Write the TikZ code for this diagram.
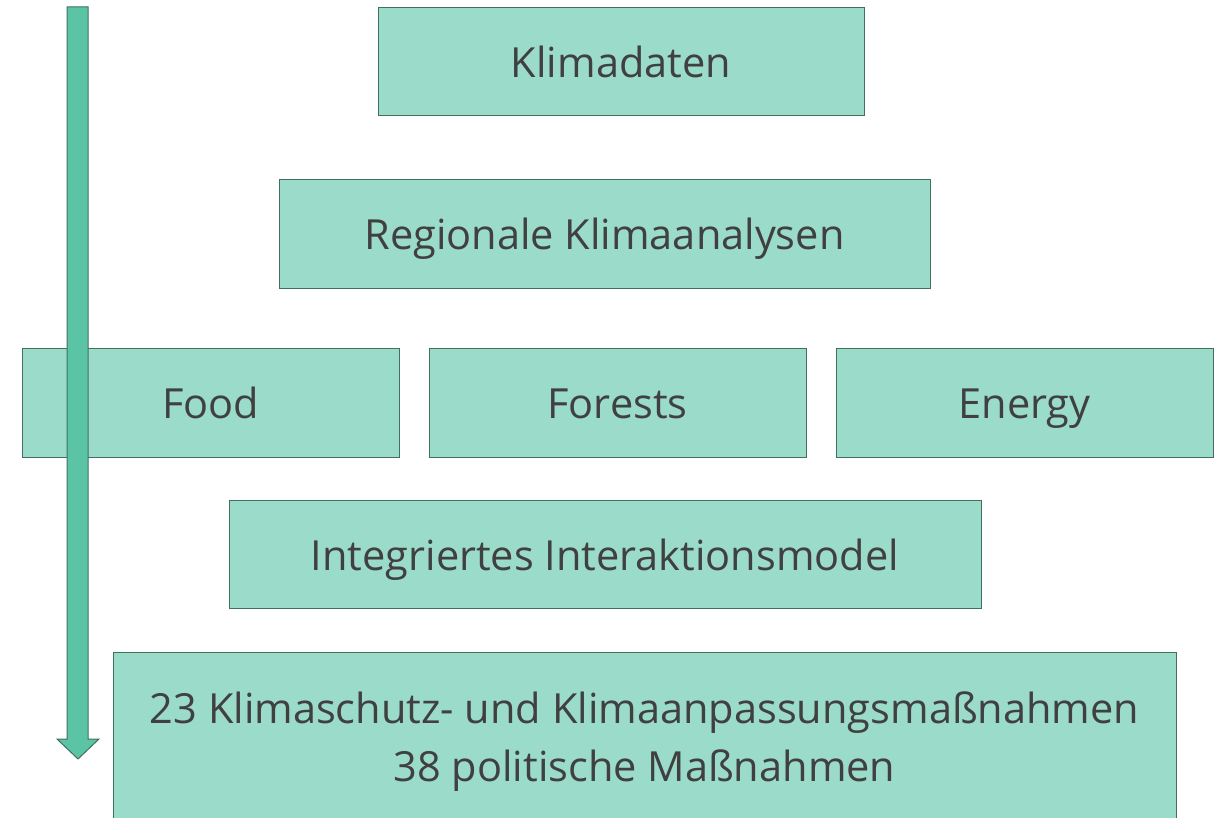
\documentclass[tikz,border=0pt]{standalone}
\usepackage{fontspec}
\setmainfont{Open Sans}
\usepackage{tikz}
\usetikzlibrary{positioning}
\definecolor{boxfill}{HTML}{9BDBC9}
\definecolor{boxline}{HTML}{41705F}
\definecolor{pfeil}{HTML}{5AC4A4}
\definecolor{schrift}{HTML}{404040}

\begin{document}
\begin{tikzpicture}[x=1pt,y=-1pt,font=\fontsize{41.5}{58}\selectfont,
    feld/.style={draw=boxline,fill=boxfill,text=schrift,inner sep=0pt,line width=1pt,align=center},
    zeile/.style={feld,text height=36pt,text depth=4pt}]
        \useasboundingbox (0,0) rectangle (1214,818);
        % --- Datenkette ---
        \node[zeile,minimum width=486pt,minimum height=108pt] (klima) at (621,62) {Klimadaten};
        \node[zeile,minimum width=651pt,minimum height=108pt] (region) at (604.5,234) {Regionale Klimaanalysen};
        % --- Sektoren ---
        \node[zeile,minimum width=377pt,minimum height=109pt] (food) at (210.5,402.5) {Food};
        \node[zeile,minimum width=377pt,minimum height=109pt] (forests) at (617.5,402.5) {Forests};
        \node[zeile,minimum width=377pt,minimum height=109pt] (energy) at (1024.5,402.5) {Energy};
        % --- Modell und Ergebnis ---
        \node[zeile,minimum width=752pt,minimum height=108pt] (modell) at (605,554) {Integriertes Interaktionsmodel};
        \node[feld,minimum width=1063pt,minimum height=180pt] (massn) at (644.5,742)
            {23 Klimaschutz- und Klimaanpassungsmaßnahmen\\ 38 politische Maßnahmen};
        % --- Pfeil links ---
        \draw[boxline,fill=pfeil,line width=1pt] (67,7) -- (88,7) -- (88,739) -- (99,739) -- (78,759)
            -- (57,739) -- (67,739) -- cycle;
\end{tikzpicture}
\end{document}
